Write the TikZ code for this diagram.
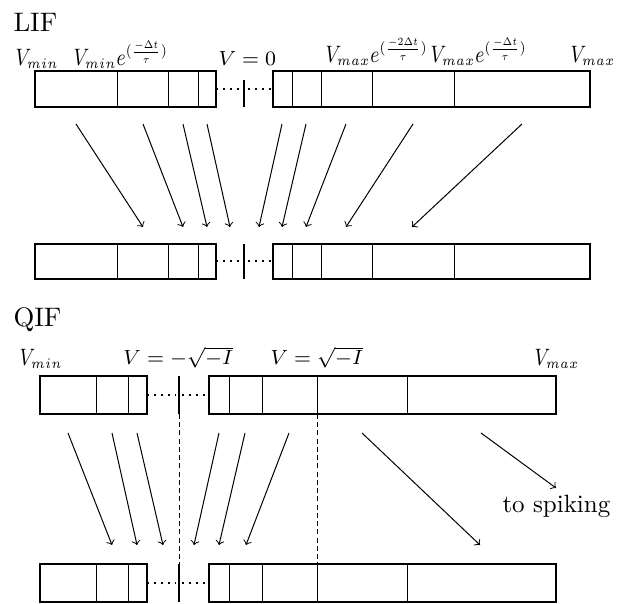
\RequirePackage{fix-cm}
\documentclass[tikz,border=0pt]{standalone}
\usepackage{graphicx}
\DeclareMathSizes{8.2}{8.2}{5.8}{4.8}
\DeclareMathSizes{9.5}{9.5}{5.8}{4.4}
\newcommand\squeezed[1]{\scalebox{0.8}[1]{#1}}
\begin{document}
\begin{tikzpicture}[x=0.4pt,y=-0.4pt,
  bar/.style={line width=0.8pt},
  div/.style={line width=0.4pt},
  arr/.style={->, line width=0.4pt},
  dots/.style={dotted, line width=0.8pt},
  dsh/.style={dash pattern=on 2pt off 1.3pt, line width=0.4pt},
  lbl/.style={anchor=base west, inner sep=0pt},
  mlbl/.style={lbl, font=\fontsize{8.2}{10}\selectfont},
  slbl/.style={lbl, font=\fontsize{9.5}{11}\selectfont},
  ttl/.style={lbl, font=\fontsize{10.7}{12}\selectfont}]
\useasboundingbox (0,0) rectangle (621,604);

% titles
\node[ttl] (lif) at (13,32) {LIF};
\node[ttl] (qif) at (13,327) {QIF};

% LIF labels
\node[slbl] (l1) at (15,66) {\squeezed{$V_{min}$}};
\node[slbl] (l2) at (73,66) {\squeezed{$V_{min}e^{(\frac{-\Delta t}{\tau})}$}};
\node[mlbl] (l3) at (218,66) {$V = 0$};
\node[slbl] (l4) at (325,63) {\squeezed{$V_{max}e^{(\frac{-2\Delta t}{\tau})}$}};
\node[slbl] (l5) at (430,63) {\squeezed{$V_{max}e^{(\frac{-\Delta t}{\tau})}$}};
\node[slbl] (l6) at (570,63) {\squeezed{$V_{max}$}};

% LIF bars
\foreach \ya/\yb in {71/107,244/279}{
  \draw[bar] (35,\ya) rectangle (216,\yb);
  \draw[bar] (273,\ya) rectangle (590,\yb);
  \foreach \x in {117,168,198,292,321,372,454} \draw[div] (\x,\ya) -- (\x,\yb);
  \draw[dots] (216,{(\ya+\yb)/2}) -- (241,{(\ya+\yb)/2});
  \draw[dots] (248,{(\ya+\yb)/2}) -- (273,{(\ya+\yb)/2});
}
\draw[line width=0.6pt] (244,80) -- (244,107);
\draw[line width=0.6pt] (244,244) -- (244,279);

% LIF arrows
\foreach \i/\xa/\xb in {1/76/143,2/143/183,3/183/207,4/207/230,5/282/259,6/306/282,7/346/306,8/413/346,9/522/412}{
  \coordinate (ls\i) at (\xa,124);
  \coordinate (le\i) at (\xb,227);
  \draw[arr] (ls\i) -- (le\i);
}

% QIF labels
\node[slbl] (q1) at (19,366) {\squeezed{$V_{min}$}};
\node[mlbl] (q2) at (123,365) {$V = -\sqrt{-I}$};
\node[mlbl] (q3) at (270,365) {$V = \sqrt{-I}$};
\node[slbl] (q4) at (534,366) {\squeezed{$V_{max}$}};

% QIF bars
\foreach \ya/\yb in {376/414,564/602}{
  \draw[bar] (40,\ya) rectangle (147,\yb);
  \draw[bar] (209,\ya) rectangle (556,\yb);
  \foreach \x in {96,128,229,262,317,407} \draw[div] (\x,\ya) -- (\x,\yb);
  \draw[dots] (147,{(\ya+\yb)/2}) -- (176,{(\ya+\yb)/2});
  \draw[dots] (182,{(\ya+\yb)/2}) -- (209,{(\ya+\yb)/2});
  \draw[line width=0.6pt] (179,\ya) -- (179,\yb);
}
\draw[dsh] (179,414) -- (179,564);
\draw[dsh] (317,414) -- (317,564);

% QIF arrows
\foreach \i/\xa/\xb in {1/68/112,2/112/137,3/137/163,4/219/194,5/245/219,6/289/246,7/362/480}{
  \coordinate (qs\i) at (\xa,433);
  \coordinate (qe\i) at (\xb,545);
  \draw[arr] (qs\i) -- (qe\i);
}
\coordinate (qs8) at (481,433);
\coordinate (qe8) at (556,488);
\draw[arr] (qs8) -- (qe8);
\node[lbl] (spk) at (502,513) {to spiking};
\end{tikzpicture}
\end{document}
